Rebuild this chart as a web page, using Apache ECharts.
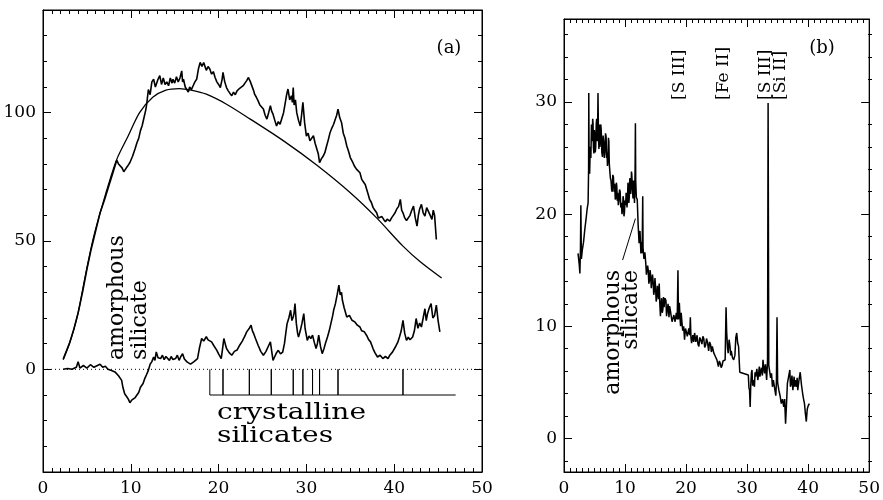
<!DOCTYPE html>
<html><head><meta charset="utf-8">
<script src="https://cdn.jsdelivr.net/npm/echarts@6/dist/echarts.min.js"></script>
<style>html,body{margin:0;padding:0;background:#fff}#c{width:883px;height:500px}</style>
</head><body><div id="c"></div>
<script>
// ---------- tick values ----------
const xTickLabels = [0, 10, 20, 30, 40, 50];
const aYLabels = [0, 50, 100];
const aYMinor = [-30, -20, -10, 10, 20, 30, 40, 60, 70, 80, 90, 110, 120, 130];
const bYLabels = [0, 10, 20, 30];
const bYMinor = [-2, 2, 4, 6, 8, 12, 14, 16, 18, 22, 24, 26, 28, 32, 34, 36];

// ---------- panel (a) ----------
const aSpectrum = [[2.3,4],[3,10],[3.5,15.5],[4,22],[4.5,30],[5,39],[5.5,47],[6,54],[6.5,61],[7,66],[7.5,71.5],[8,77],[8.4,81.5],[8.6,80],[8.8,80.5],[9,78.5],[9.2,77],[9.4,78],[9.6,79],[9.9,80.6],[10.2,83],[10.5,86],[10.7,88.3],[10.9,90],[11.1,93],[11.3,95],[11.5,98],[11.7,101],[11.8,103],[12,109],[12.2,107],[12.4,112],[12.6,113],[12.8,110],[12.9,109.8],[13.1,113],[13.3,114.4],[13.5,111],[13.7,113.5],[13.9,111],[14.1,112],[14.3,110.5],[14.5,113.5],[14.7,111.5],[14.8,113],[15,111.5],[15.2,114],[15.4,112],[15.6,113.5],[15.8,116.3],[15.9,112],[16,113],[16.2,110],[16.4,109.5],[16.55,108],[16.7,110],[16.9,109],[17.1,110.5],[17.3,112],[17.5,113],[17.7,117],[17.9,119.6],[18.1,118],[18.3,119.5],[18.45,118.9],[18.6,116.5],[18.8,118],[19,117],[19.2,115],[19.4,116],[19.6,113.7],[19.8,112],[20,111],[20.2,109.8],[20.4,113],[20.5,115.7],[20.7,112],[20.9,109.8],[21.1,108.5],[21.3,107.5],[21.5,106.6],[21.7,108],[21.9,107],[22.1,108.5],[22.4,109.5],[22.6,108.8],[22.8,110.5],[23,111.5],[23.2,112.5],[23.4,113.7],[23.6,112.2],[23.8,111.8],[24,108.5],[24.1,107.2],[24.3,106],[24.5,104.6],[24.7,103],[24.9,103.5],[25.1,101.4],[25.3,99],[25.5,97.5],[25.7,100],[25.9,102.7],[26.05,100.5],[26.2,99.4],[26.4,97],[26.6,94.8],[26.8,96.5],[27,95.5],[27.2,96.2],[27.4,100],[27.6,104],[27.75,107],[27.9,109.2],[28.1,105],[28.3,106.6],[28.4,104],[28.5,109.8],[28.6,103],[28.75,105],[28.9,100],[29.1,97],[29.3,94.8],[29.45,99],[29.6,104],[29.8,96],[30,90.9],[30.2,92],[30.4,89],[30.6,89.6],[30.8,91],[31,88],[31.2,88.4],[31.35,84],[31.5,80.5],[31.7,82],[31.9,83],[32.1,84.4],[32.3,87],[32.5,89.5],[32.7,92.3],[32.9,94],[33.1,95.5],[33.3,97.5],[33.45,99],[33.6,101.4],[33.8,98],[34,96.2],[34.2,92],[34.4,90],[34.6,87],[34.8,85],[35,82.5],[35.3,80.5],[35.5,79],[35.7,78],[35.9,77.5],[36.1,76.6],[36.3,74],[36.5,73],[36.7,72],[36.9,71.4],[37.05,68],[37.2,66.2],[37.4,65],[37.6,63],[37.8,62],[38,61],[38.2,59],[38.4,58.5],[38.6,59.5],[38.8,58.4],[39,57.5],[39.2,58.5],[39.5,57.7],[39.7,59],[39.9,60],[40.1,61],[40.3,62.5],[40.5,63.5],[40.7,66.2],[40.85,62],[41,61],[41.2,59],[41.4,58],[41.6,58.4],[41.8,60],[42,62],[42.2,63.6],[42.4,59],[42.6,55.8],[42.75,60],[42.9,62.5],[43.1,64.3],[43.3,61],[43.5,59.7],[43.7,63],[43.9,63.6],[44.1,60],[44.3,58.4],[44.45,62],[44.6,60],[44.8,50.6]];

const aContinuum = [[2.3,3.7],[3,10],[3.5,15.4],[4,22],[4.4,29],[5,39.5],[5.7,50.6],[6.3,58.4],[7.4,71.4],[8.4,81.8],[9.7,90.9],[11,100],[12.5,106],[14,108.8],[15.5,109.4],[17,108.7],[18.6,107.2],[20.9,103.3],[23.6,97.5],[27.4,89],[31.2,79.5],[35,68.8],[38,59],[41,48],[43,41.8],[45.4,35.6]];

const aResidual = [[2.3,0],[2.8,0.3],[3.3,0],[3.8,0.8],[4,3],[4.2,0.5],[4.6,1.5],[5,0.5],[5.4,1.8],[5.8,0.8],[6.2,1.5],[6.5,2],[6.8,0.8],[7.1,1.2],[7.4,0],[7.8,-0.5],[8.2,-1],[8.6,-2.5],[8.96,-4.3],[9.1,-7],[9.3,-9.5],[9.5,-10.5],[9.7,-11.5],[9.9,-13],[10.1,-12],[10.3,-12.5],[10.5,-11],[10.7,-10],[10.9,-9],[11.1,-7],[11.4,-5.5],[11.6,-3.5],[11.8,-2],[12,-0.4],[12.2,2],[12.4,3],[12.6,4.8],[12.75,3.5],[12.9,6.8],[13.1,4.5],[13.4,4.2],[13.6,5.5],[13.8,3.8],[14,5],[14.2,4.8],[14.4,3.5],[14.6,5],[14.8,3.8],[15.1,4.2],[15.3,5.5],[15.5,3.5],[15.7,5],[15.9,6.1],[16.1,4],[16.4,2.9],[16.6,3.5],[16.8,2],[17,1.6],[17.2,3],[17.4,2.5],[17.6,4.2],[17.8,8],[18.07,12],[18.3,11],[18.6,12.7],[18.8,11.5],[19,11.8],[19.2,10.7],[19.5,9],[19.8,7.4],[20,6],[20.3,4.2],[20.45,8],[20.6,12],[20.75,10],[20.9,8.1],[21.2,6.5],[21.5,5.5],[21.8,7],[22.1,7.5],[22.4,9.4],[22.7,11],[23,13],[23.2,14.6],[23.5,16],[23.7,17.2],[23.85,15],[24,13.9],[24.2,12],[24.5,9.4],[24.8,7],[25.1,5.5],[25.4,7],[25.6,8.5],[25.9,10.7],[26.05,7],[26.2,3.5],[26.4,5],[26.6,6.5],[26.8,7.4],[27.05,6],[27.3,6.7],[27.5,10],[27.65,14],[27.8,17.8],[28,20],[28.2,23],[28.35,19],[28.5,20.4],[28.6,22],[28.7,25.6],[28.85,18],[29,14],[29.1,12.6],[29.3,15],[29.5,18],[29.7,21.7],[29.85,16],[30.1,11.3],[30.3,13],[30.5,12],[30.7,13.3],[30.9,10.5],[31.1,8.1],[31.25,10],[31.4,13.3],[31.6,9],[31.8,6.1],[32,8],[32.2,10.5],[32.4,12.6],[32.6,15],[32.8,18],[33,21],[33.1,23],[33.3,25.5],[33.5,29],[33.7,32.8],[33.85,29],[34,30],[34.1,26.9],[34.3,24],[34.6,20.4],[34.9,21],[35.2,19.1],[35.5,18.5],[35.8,17.2],[36.1,16.5],[36.3,15],[36.6,14.6],[36.9,13],[37.1,11.5],[37.3,10.7],[37.6,8],[37.8,6.5],[38.1,4.8],[38.4,5.5],[38.7,4.2],[39,5],[39.3,4.2],[39.5,5.5],[39.8,6.7],[40.1,8.5],[40.4,10.5],[40.6,12.6],[40.8,15],[41,19.1],[41.2,14],[41.4,11.3],[41.6,12.5],[41.8,11.5],[42.1,12.6],[42.3,15],[42.5,19.8],[42.7,16],[42.9,18],[43.1,16.5],[43.3,20],[43.5,23.6],[43.65,19],[43.8,21.7],[44,24],[44.2,25.6],[44.4,20],[44.6,21],[44.8,25],[45,19],[45.2,14.6]];

const aZeroLine = [[0,0],[50,0]];
const crystallineFeatures = [19, 20.5, 23.5, 26, 28.5, 29.6, 30.7, 31.5, 33.6, 41];
const crystallineLevel = -10;
const crystallineEnd = 47;

// ---------- panel (b) ----------
const bSpectrum = [[2.3,16.5],[2.5,15.5],[2.6,14.7],[2.7,17],[2.76,20.8],[2.85,16],[3.0,16.8],[3.2,17.5],[3.4,18.6],[3.6,19.5],[3.8,20.5],[3.95,21],[4.03,24],[4.06,30.8],[4.12,24],[4.2,23.6],[4.3,26],[4.4,25],[4.5,28],[4.6,26.5],[4.7,28.5],[4.76,28.1],[4.82,26],[4.9,25.4],[4.97,27.5],[5.05,27],[5.12,25.5],[5.2,26],[5.28,28],[5.35,28.5],[5.42,26.5],[5.5,27],[5.57,30.8],[5.65,27],[5.72,25.8],[5.8,28],[5.88,26],[5.95,26.5],[6.02,28],[6.1,27.5],[6.2,25.5],[6.3,25.1],[6.4,27],[6.5,26.5],[6.6,25],[6.7,25.5],[6.8,27.2],[6.9,26.9],[6.98,25],[7.05,25.5],[7.12,24.3],[7.2,24.8],[7.28,26.8],[7.35,26.5],[7.42,24.5],[7.5,23.9],[7.6,23.2],[7.7,23],[7.8,22.2],[7.9,22],[8,23.5],[8.1,23.3],[8.2,22],[8.3,22.7],[8.4,21.3],[8.5,21.5],[8.58,22.8],[8.65,22.5],[8.72,21.2],[8.8,21.9],[8.9,20.8],[9,21.2],[9.1,22.2],[9.2,22],[9.3,20.6],[9.4,21],[9.5,20],[9.6,20.5],[9.68,21.6],[9.75,21.3],[9.82,19.8],[9.9,20.1],[10,21.2],[10.1,20.8],[10.18,21.9],[10.25,21.6],[10.32,20.6],[10.4,21.3],[10.48,22.8],[10.55,22.5],[10.62,21],[10.7,21.5],[10.78,23.2],[10.85,23],[10.92,21.8],[11,22.4],[11.05,23.8],[11.1,23.6],[11.2,22.5],[11.3,21.4],[11.38,23],[11.45,22.5],[11.55,21],[11.65,24],[11.7,28.1],[11.75,23],[11.85,21.5],[12,21.3],[12.15,19],[12.3,17.4],[12.45,18.5],[12.6,16.5],[12.75,17.5],[12.8,16.5],[12.9,21.6],[12.95,17],[13.1,16],[13.25,16.6],[13.4,15.6],[13.5,14.6],[13.6,14.5],[13.7,15.4],[13.8,15],[13.9,13.8],[14,14.1],[14.1,15],[14.2,14.5],[14.3,13.4],[14.4,13.5],[14.5,14.6],[14.6,14],[14.7,12.8],[14.8,13.2],[14.9,14.3],[15,13.5],[15.1,12.2],[15.2,12.5],[15.3,13.6],[15.4,13.2],[15.5,12.4],[15.6,13.8],[15.7,12],[15.8,10.9],[15.9,12],[16,12.5],[16.1,11.2],[16.2,11.5],[16.3,12.6],[16.4,11.7],[16.55,12.5],[16.7,12.3],[16.8,10.9],[16.9,11],[17.05,12],[17.2,10.8],[17.3,11.8],[17.4,11.5],[17.6,11.4],[17.7,10.4],[17.8,10.6],[18,11],[18.2,10.4],[18.4,11.2],[18.55,10.6],[18.67,15],[18.75,10.6],[18.9,12.1],[19,10.8],[19.1,10],[19.2,11.2],[19.3,10.5],[19.45,9.6],[19.6,10],[19.75,8.8],[19.9,9.8],[20.05,9.5],[20.2,9.1],[20.45,9.8],[20.6,9.2],[20.7,10.8],[20.8,9],[20.9,8.5],[21.1,9.2],[21.25,8.6],[21.4,9.4],[21.6,8.6],[21.8,9.2],[21.95,8.4],[22.1,8.2],[22.25,9],[22.4,8.8],[22.6,8.4],[22.75,9.1],[22.9,8.9],[23.05,8.1],[23.2,8.3],[23.35,8.9],[23.5,8.6],[23.7,7.8],[23.85,8.6],[24,8.4],[24.15,7.7],[24.3,8.2],[24.55,7.6],[24.8,7.3],[25.05,7.0],[25.3,6.4],[25.45,6.9],[25.6,6.7],[25.75,6.3],[25.9,6.5],[26.05,6.9],[26.2,6.8],[26.4,7],[26.55,11.7],[26.65,9.5],[26.8,8],[26.9,7.6],[27.05,8.8],[27.2,8.2],[27.3,7.4],[27.4,7.8],[27.6,7.2],[27.8,7],[28.0,7.4],[28.15,9],[28.3,9.4],[28.45,8.5],[28.6,8.2],[28.7,7],[28.8,5.9],[30.2,5.65],[30.3,4.5],[30.4,4.3],[30.5,2.8],[30.6,4.8],[30.7,5.8],[30.8,6.1],[30.9,4.7],[31,5.2],[31.2,4.6],[31.3,5.9],[31.4,5.5],[31.6,6.2],[31.75,5.2],[31.85,5.6],[32,6.4],[32.1,5.5],[32.25,6],[32.35,6.3],[32.5,5.6],[32.6,7],[32.75,6.2],[32.85,5.8],[33,6.6],[33.2,5.2],[33.35,7],[33.44,29.9],[33.55,6.5],[33.7,6.4],[33.85,5.4],[34,5.8],[34.15,4.6],[34.3,5.2],[34.5,4.5],[34.7,3.8],[34.8,5],[34.9,10.8],[35.0,5],[35.2,4.3],[35.4,3.8],[35.6,3.1],[35.8,3.5],[36,2.8],[36.15,3.5],[36.3,1.3],[36.45,3],[36.6,4.9],[36.8,5.5],[37,6.1],[37.1,4.6],[37.2,4.8],[37.35,5.6],[37.5,4.3],[37.7,5.5],[37.8,4.6],[37.9,5.2],[38.1,4.6],[38.2,5.4],[38.3,4.3],[38.5,5.2],[38.7,5.9],[38.9,4.8],[39.1,4],[39.25,3.5],[39.4,3.1],[39.55,2.2],[39.7,1.5],[39.85,2.6],[40,2.9],[40.2,3.1]];
const bPointer = [[9.6,15.9],[11.7,19.6]];
const bLineLabels = ['[S III]', '[Fe II]', '[S III]', '[Si II]'];

// ---------- build ----------
const FONT = 'DejaVu Serif';
const BLACK = '#000';

const crystallinePath = [[crystallineFeatures[0], 0]];
crystallineFeatures.forEach(function (fx, i) {
  if (i > 0) { crystallinePath.push([fx, crystallineLevel], [fx, 0]); }
  crystallinePath.push([fx, crystallineLevel]);
});
crystallinePath.push([crystallineEnd, crystallineLevel]);

function xAx(grid, pos, showLabels, hidden) {
  return {
    type: 'value', gridIndex: grid, position: pos, min: 0, max: 50, interval: 10, show: !hidden,
    axisLine: { show: true, onZero: false, lineStyle: { color: BLACK, width: 1 } },
    axisTick: { show: true, inside: true, length: 8, lineStyle: { color: BLACK, width: 1 } },
    minorTick: { show: true, splitNumber: 10, length: 4, lineStyle: { color: BLACK, width: 1 } },
    axisLabel: { show: showLabels, color: BLACK, fontFamily: FONT, fontSize: 17, margin: 8, customValues: xTickLabels },
    splitLine: { show: false }, minorSplitLine: { show: false }
  };
}
function yAx(grid, pos, min, max, tickVals, len, showLabels, showLine) {
  return {
    type: 'value', gridIndex: grid, position: pos, min: min, max: max,
    axisLine: { show: showLine, onZero: false, lineStyle: { color: BLACK, width: 1 } },
    axisTick: { show: true, inside: true, length: len, customValues: tickVals, lineStyle: { color: BLACK, width: 1 } },
    axisLabel: { show: showLabels, color: BLACK, fontFamily: FONT, fontSize: 17, margin: 7, customValues: tickVals },
    splitLine: { show: false }
  };
}
function lineSeries(xi, yi, data, extra) {
  return Object.assign({
    type: 'line', xAxisIndex: xi, yAxisIndex: yi, data: data, showSymbol: false, symbol: 'none',
    lineStyle: { color: BLACK, width: 1.6 }, animation: false, silent: true, z: 3
  }, extra || {});
}

const chart = echarts.init(document.getElementById('c'), null, { renderer: 'canvas' });
const gA = { left: 43, top: 10, width: 439, height: 462 };
const gB = { left: 564, top: 19, width: 308, height: 453 };
const frame = { show: true, borderColor: BLACK, borderWidth: 1, backgroundColor: 'transparent' };

chart.setOption({
  backgroundColor: '#fff',
  animation: false,
  grid: [Object.assign({}, gA, frame), gA, Object.assign({}, gB, frame), gB],
  xAxis: [
    xAx(0, 'bottom', true), xAx(0, 'top', false), xAx(1, 'bottom', false, true),
    xAx(2, 'bottom', true), xAx(2, 'top', false), xAx(3, 'bottom', false, true)
  ],
  yAxis: [
    yAx(0, 'left', -40, 140, aYLabels, 8, true, true),
    yAx(0, 'right', -40, 140, aYLabels, 8, false, true),
    yAx(1, 'left', -40, 140, aYMinor, 4, false, false),
    yAx(1, 'right', -40, 140, aYMinor, 4, false, false),
    yAx(2, 'left', -3, 37.4, bYLabels, 8, true, true),
    yAx(2, 'right', -3, 37.4, bYLabels, 8, false, true),
    yAx(3, 'left', -3, 37.4, bYMinor, 4, false, false),
    yAx(3, 'right', -3, 37.4, bYMinor, 4, false, false)
  ],
  series: [
    lineSeries(0, 0, aZeroLine, { lineStyle: { color: BLACK, width: 1, type: [1, 3] }, z: 2 }),
    lineSeries(0, 0, aContinuum, { smooth: 0.3, lineStyle: { color: BLACK, width: 1.3 } }),
    lineSeries(0, 0, aSpectrum),
    lineSeries(0, 0, aResidual),
    lineSeries(0, 0, crystallinePath, { lineStyle: { color: BLACK, width: 1 } }),
    lineSeries(3, 4, bSpectrum, { lineStyle: { color: BLACK, width: 1.5 } }),
    lineSeries(3, 4, bPointer, { lineStyle: { color: BLACK, width: 1 } })
  ],
  graphic: [
    { type: 'text', x: 449, y: 48, style: { text: '(a)', fill: BLACK, font: '18px "DejaVu Serif"', align: 'center', verticalAlign: 'middle' } },
    { type: 'text', x: 822, y: 48, style: { text: '(b)', fill: BLACK, font: '18px "DejaVu Serif"', align: 'center', verticalAlign: 'middle' } },
    { type: 'text', x: 217, y: 402, scaleX: 1.22, style: { text: 'crystalline\nsilicates', fill: BLACK, font: '23px "DejaVu Serif"', lineHeight: 23, align: 'left', verticalAlign: 'top' } },
    { type: 'text', x: 129, y: 360, rotation: Math.PI / 2, style: { text: 'amorphous\nsilicate', fill: BLACK, font: '22px "DejaVu Serif"', lineHeight: 23, align: 'left', verticalAlign: 'middle' } },
    { type: 'text', x: 622, y: 270, rotation: Math.PI / 2, style: { text: 'amorphous\nsilicate', fill: BLACK, font: '22px "DejaVu Serif"', lineHeight: 18, align: 'right', verticalAlign: 'middle' } },
    { type: 'text', x: 680, y: 100, rotation: Math.PI / 2, style: { text: bLineLabels[0], fill: BLACK, font: '17px "DejaVu Serif"', align: 'left', verticalAlign: 'middle' } },
    { type: 'text', x: 724, y: 100, rotation: Math.PI / 2, style: { text: bLineLabels[1], fill: BLACK, font: '17px "DejaVu Serif"', align: 'left', verticalAlign: 'middle' } },
    { type: 'text', x: 766, y: 100, rotation: Math.PI / 2, style: { text: bLineLabels[2], fill: BLACK, font: '17px "DejaVu Serif"', align: 'left', verticalAlign: 'middle' } },
    { type: 'text', x: 781, y: 100, rotation: Math.PI / 2, style: { text: bLineLabels[3], fill: BLACK, font: '17px "DejaVu Serif"', align: 'left', verticalAlign: 'middle' } }
  ]
});
</script></body></html>
